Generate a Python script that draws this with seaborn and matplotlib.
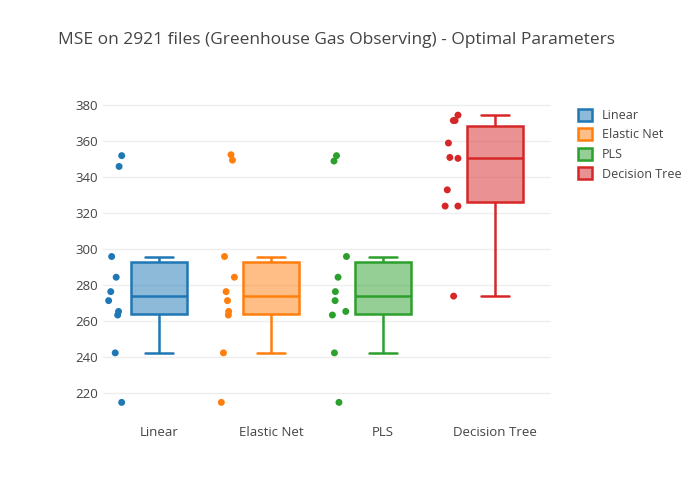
import numpy as np
import pandas as pd
import matplotlib
matplotlib.use("Agg")
import matplotlib.pyplot as plt
import matplotlib.transforms as mtransforms
import seaborn as sns
from matplotlib.patches import Patch

models = ["Linear", "Elastic Net", "PLS", "Decision Tree"]
colors = ["#1f77b4", "#ff7f0e", "#2ca02c", "#d62728"]
linear = [352, 346, 296, 284.5, 276.5, 271.5, 265.5, 263.5, 242.5, 215]
elastic = [352.5, 349.5, 296, 284.5, 276.5, 271.5, 265.5, 263.5, 242.5, 215]
pls = [352, 349, 296, 284.5, 276.5, 271.5, 265.5, 263.5, 242.5, 215]
tree = [374.5, 371.5, 371.5, 359, 351, 350.5, 333, 324, 324, 274]

df = pd.DataFrame({
    "model": np.repeat(models, 10),
    "mse": linear + elastic + pls + tree,
})

sns.set_style("white")
plt.rcParams["font.family"] = ["Open Sans", "DejaVu Sans"]
fig = plt.figure(figsize=(7, 5), dpi=100)
ax = fig.add_axes([0.147, 0.17, 0.64, 0.67])

sns.boxplot(data=df, x="model", y="mse", hue="model", palette=colors,
            width=0.5, showfliers=False, whis=1.5, linewidth=1.8,
            ax=ax, legend=False)
for patch in ax.patches:
    ext = patch.get_path().vertices[:, 0]
    i = int(round(ext.mean()))
    patch.set_facecolor(matplotlib.colors.to_rgba(colors[i], 0.5))
    patch.set_edgecolor(colors[i])
    patch.set_linewidth(1.8)
for ln in ax.lines:
    xd = np.asarray(ln.get_xdata(), dtype=float)
    i = int(round(xd.mean()))
    ln.set_color(colors[i])
    ln.set_linewidth(1.8)
    ln.set_zorder(5)

n_before = len(ax.collections)
sns.stripplot(data=df, x="model", y="mse", hue="model", palette=colors,
              jitter=0.07, size=5, ax=ax, legend=False)
shift = mtransforms.ScaledTranslation(-0.43, 0, fig.dpi_scale_trans)
for coll in ax.collections[n_before:]:
    coll.set_transform(coll.get_transform() + shift)

ax.set_ylim(208, 394)
ax.set_yticks(range(220, 381, 20))
ax.grid(axis="y", color="#eeeeee", linewidth=1)
ax.set_axisbelow(True)
for s in ax.spines.values():
    s.set_visible(False)
ax.set_xlabel("")
ax.set_ylabel("")
ax.tick_params(axis="both", length=0, labelsize=9.5, colors="#444444")
ax.tick_params(axis="x", pad=8)

fig.suptitle("MSE on 2921 files (Greenhouse Gas Observing) - Optimal Parameters",
             x=0.48, y=0.935, fontsize=12.5, color="#444444")
handles = [Patch(facecolor=matplotlib.colors.to_rgba(c, 0.5), edgecolor=c, linewidth=1.8)
           for c in colors]
fig.legend(handles, models, loc="upper left", bbox_to_anchor=(0.81, 0.805),
           frameon=False, fontsize=9, labelcolor="#444444",
           handlelength=1.1, handleheight=1.1)
fig.savefig("out.png", dpi=100)
